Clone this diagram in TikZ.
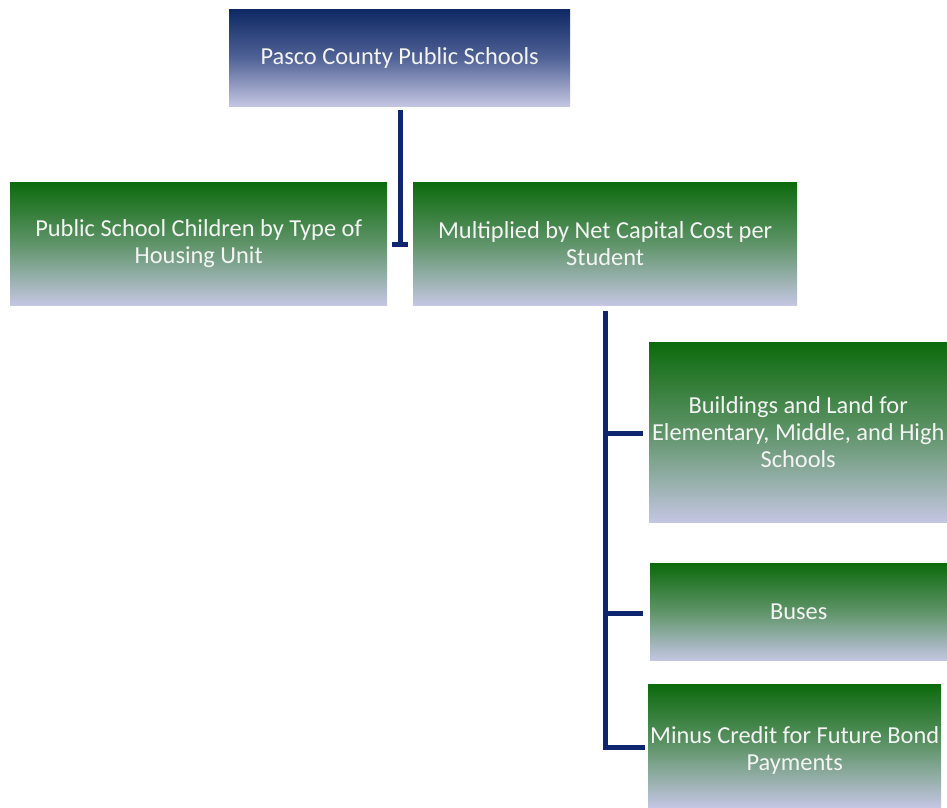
\documentclass[tikz,border=0pt]{standalone}
\usepackage{fontspec}
\setmainfont{Carlito}
\begin{document}
\begin{tikzpicture}[x=1pt,y=-1pt,
  txt/.style={inner sep=0pt,align=center,text=textwhite,font=\fontsize{24.4}{26.8}\selectfont},
  base/.style={txt,anchor=north west},
  navybox/.style={base,top color=navytop,bottom color=lav,middle color=navymid},
  greenbox/.style={base,top color=greentop,bottom color=lav,middle color=greenmid},
  conn/.style={draw=linenavy,line width=5pt}]
\definecolor{navytop}{RGB}{14,40,100}
\definecolor{navymid}{RGB}{80,98,150}
\definecolor{greentop}{RGB}{12,106,12}
\definecolor{greenmid}{RGB}{95,148,105}
\definecolor{lav}{RGB}{196,198,226}
\definecolor{linenavy}{RGB}{14,38,112}
\definecolor{textwhite}{RGB}{244,244,244}
\useasboundingbox[fill=white] (0,0) rectangle (947,807);

\node[navybox,minimum width=341pt,minimum height=97pt] (top) at (229,9) {Pasco County Public Schools};
\node[greenbox,minimum width=377pt,minimum height=123pt] (left) at (10,182) {Public School Children by Type of\\Housing Unit};
\node[greenbox,minimum width=384pt,minimum height=123pt] (mid) at (413,182) {Multiplied by Net Capital Cost per\\Student};
\node[greenbox,minimum width=298pt,minimum height=180pt] (bld) at (649,342) {Buildings and Land for\\Elementary, Middle, and High\\Schools};
\node[greenbox,minimum width=297pt,minimum height=97pt] (bus) at (650,563) {Buses};
\node[greenbox,minimum width=293pt,minimum height=123pt,
  label={[txt,yshift=-4.5pt]center:Minus Credit for Future Bond\\Payments}] (minus) at (648,684) {};

% top connector with T end
\coordinate (t1) at (400,110);
\coordinate (t2) at (400,244);
\coordinate (tl) at (392,244);
\coordinate (tr) at (408,244);
\draw[conn] (t1) -- (t2);
\draw[conn] (tl) -- (tr);

% right bracket connector
\coordinate (r0) at (605,311);
\coordinate (rb) at (605,747);
\coordinate (e1) at (643,433);
\coordinate (e2) at (643,613);
\coordinate (e3) at (645,747);
\draw[conn] (r0) -- (rb) -- (e3);
\draw[conn] (r0 |- e1) -- (e1);
\draw[conn] (r0 |- e2) -- (e2);
\end{tikzpicture}
\end{document}
